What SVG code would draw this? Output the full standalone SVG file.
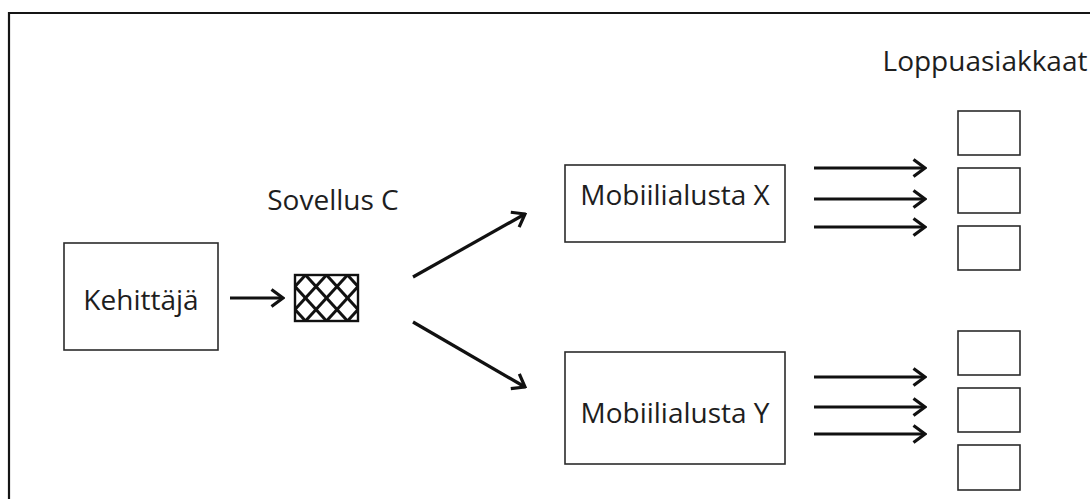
<svg xmlns="http://www.w3.org/2000/svg" width="1090" height="499" viewBox="0 0 1090 499">
  <defs>
    <style>
      .box { fill: #ffffff; stroke: #2b2b2b; stroke-width: 1.6; }
      .lbl { font-family: "Open Sans", "Liberation Sans", sans-serif; font-size: 28px; fill: #1e1e1e; text-anchor: middle; dominant-baseline: central; }
      .arr { fill: none; stroke: #111111; stroke-width: 3.2; marker-end: url(#chev); }
      .hatch { stroke: #111111; stroke-width: 3; stroke-linecap: butt; }
    </style>
    <marker id="chev" viewBox="0 0 15 20" refX="13" refY="10" markerWidth="15" markerHeight="20" markerUnits="userSpaceOnUse" orient="auto">
      <path d="M1.5 1.5 L13 10 L1.5 18.5" fill="none" stroke="#111111" stroke-width="3.2" stroke-linejoin="miter"/>
    </marker>
    <clipPath id="appClip">
      <rect x="295" y="275" width="63" height="46"/>
    </clipPath>
  </defs>

  <rect width="1090" height="499" fill="#ffffff"/>

  <!-- outer frame (left and top edges) -->
  <path d="M9 499 L9 13 L1090 13" fill="none" stroke="#151515" stroke-width="2.2"/>

  <g id="developer">
    <rect class="box" x="64" y="243" width="154" height="107"/>
    <text class="lbl" x="141" y="299">Kehittäjä</text>
  </g>

  <g id="app">
    <text class="lbl" x="333" y="199">Sovellus C</text>
    <rect x="295" y="275" width="63" height="46" fill="#ffffff" stroke="#111111" stroke-width="2.4"/>
    <g class="hatch" clip-path="url(#appClip)">
      <line x1="347.5" y1="275" x2="358" y2="286.5"/>
      <line x1="326.5" y1="275" x2="358" y2="309.5"/>
      <line x1="305.5" y1="275" x2="347.5" y2="321"/>
      <line x1="295" y1="286.5" x2="326.5" y2="321"/>
      <line x1="295" y1="309.5" x2="305.5" y2="321"/>
      <line x1="305.5" y1="275" x2="295" y2="286.5"/>
      <line x1="326.5" y1="275" x2="295" y2="309.5"/>
      <line x1="347.5" y1="275" x2="305.5" y2="321"/>
      <line x1="358" y1="286.5" x2="326.5" y2="321"/>
      <line x1="358" y1="309.5" x2="347.5" y2="321"/>
    </g>
  </g>

  <g id="platform-x">
    <rect class="box" x="565" y="165" width="220" height="77"/>
    <text class="lbl" x="675" y="194">Mobiilialusta X</text>
  </g>

  <g id="platform-y">
    <rect class="box" x="565" y="352" width="220" height="112"/>
    <text class="lbl" x="675" y="412">Mobiilialusta Y</text>
  </g>

  <g id="customers">
    <text class="lbl" x="985" y="60">Loppuasiakkaat</text>
    <rect class="box" x="958" y="111" width="62" height="44"/>
    <rect class="box" x="958" y="168" width="62" height="45"/>
    <rect class="box" x="958" y="226" width="62" height="44"/>
    <rect class="box" x="958" y="331" width="62" height="44"/>
    <rect class="box" x="958" y="388" width="62" height="44"/>
    <rect class="box" x="958" y="445" width="62" height="45"/>
  </g>

  <g id="connectors">
    <line class="arr" x1="230" y1="298" x2="283" y2="298"/>
    <line class="arr" x1="413" y1="277" x2="525" y2="214"/>
    <line class="arr" x1="413" y1="322" x2="525" y2="387"/>
    <line class="arr" x1="814" y1="168" x2="925" y2="168"/>
    <line class="arr" x1="814" y1="199" x2="925" y2="199"/>
    <line class="arr" x1="814" y1="227" x2="925" y2="227"/>
    <line class="arr" x1="814" y1="377" x2="925" y2="377"/>
    <line class="arr" x1="814" y1="407" x2="925" y2="407"/>
    <line class="arr" x1="814" y1="434" x2="925" y2="434"/>
  </g>
</svg>
